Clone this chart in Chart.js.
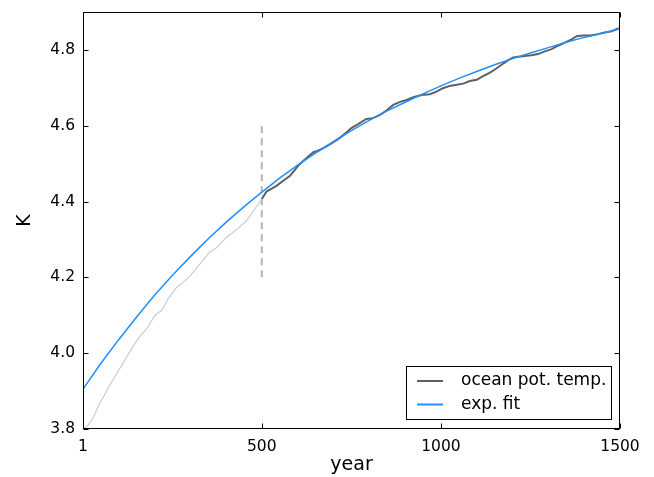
<!DOCTYPE html>
<html>
<head>
<meta charset="utf-8">
<script src="https://cdn.jsdelivr.net/npm/chart.js@4.4.1/dist/chart.umd.min.js"></script>
<style>
  body { margin: 0; background: #fff; }
  #wrap { width: 654px; height: 477px; }
</style>
</head>
<body>
<div id="wrap"><canvas id="chart"></canvas></div>
<script>
// spin-up part (light gray, years 1-500)
const spinYears = [1, 12, 25, 48, 76, 104, 137, 155, 179, 202, 221, 239, 263, 285, 300, 328, 355, 374, 402, 430, 458, 481, 500];
const spinTemp = [3.803, 3.806, 3.822, 3.868, 3.916, 3.960, 4.012, 4.039, 4.065, 4.100, 4.113, 4.144, 4.174, 4.190, 4.204, 4.236, 4.267, 4.278, 4.306, 4.326, 4.350, 4.381, 4.407];

// ocean potential temperature (years 500-1500)
const oceanYears = [500, 514, 528, 542, 560, 579, 602, 625, 644, 657, 676, 699, 718, 736, 750, 769, 792, 810, 829, 848, 867, 886, 904, 923, 946, 969, 988, 1006, 1025, 1044, 1062, 1081, 1100, 1114, 1137, 1155, 1174, 1188, 1202, 1216, 1234, 1253, 1271, 1290, 1309, 1327, 1346, 1365, 1379, 1397, 1416, 1435, 1458, 1477, 1491, 1500];
const oceanTemp = [4.407, 4.427, 4.434, 4.442, 4.455, 4.468, 4.495, 4.515, 4.530, 4.534, 4.543, 4.556, 4.568, 4.582, 4.594, 4.604, 4.618, 4.620, 4.628, 4.640, 4.655, 4.663, 4.668, 4.675, 4.681, 4.683, 4.690, 4.699, 4.705, 4.708, 4.711, 4.718, 4.721, 4.729, 4.740, 4.751, 4.764, 4.773, 4.780, 4.782, 4.784, 4.786, 4.789, 4.796, 4.802, 4.811, 4.819, 4.828, 4.836, 4.838, 4.838, 4.841, 4.846, 4.849, 4.855, 4.857];

// exponential fit
const fitYears = [1, 50, 100, 150, 200, 250, 300, 350, 400, 450, 500, 550, 600, 650, 700, 750, 800, 850, 900, 950, 1000, 1050, 1100, 1150, 1200, 1250, 1300, 1350, 1400, 1450, 1500];
const fitTemp = [3.905, 3.972, 4.035, 4.095, 4.152, 4.205, 4.254, 4.301, 4.345, 4.386, 4.425, 4.462, 4.496, 4.528, 4.558, 4.587, 4.614, 4.639, 4.662, 4.684, 4.705, 4.725, 4.743, 4.761, 4.777, 4.792, 4.806, 4.820, 4.833, 4.844, 4.856];

// marker at year 500
const markYears = [500, 500];
const markTemp = [4.2, 4.6];

const xTicks = [1, 500, 1000, 1500];
const yTicks = [3.8, 4.0, 4.2, 4.4, 4.6, 4.8];

const legendItems = [
    { label: 'ocean pot. temp.', color: '#606060' },
    { label: 'exp. fit', color: '#1e90ff' }
];

function pts(xs, ys) {
    return xs.map((x, i) => ({ x: x, y: ys[i] }));
}

// box around the plot with inward ticks on all sides, plus the boxed legend
const frame = {
    id: 'frame',
    afterDraw(chart) {
        const ctx = chart.ctx;
        const a = chart.chartArea;
        const x = chart.scales.x, y = chart.scales.y;
        const L = Math.round(a.left) + 0.5, R = Math.round(a.right) - 0.5;
        const T = Math.round(a.top) + 0.5, B = Math.round(a.bottom) - 0.5;
        const len = 5;
        ctx.save();
        ctx.strokeStyle = '#000';
        ctx.lineWidth = 1;
        ctx.strokeRect(L, T, R - L, B - T);
        ctx.beginPath();
        xTicks.forEach(v => {
            const px = Math.round(x.getPixelForValue(v)) + 0.5;
            ctx.moveTo(px, B); ctx.lineTo(px, B - len);
            ctx.moveTo(px, T); ctx.lineTo(px, T + len);
        });
        yTicks.forEach(v => {
            const py = Math.round(y.getPixelForValue(v)) + 0.5;
            ctx.moveTo(L, py); ctx.lineTo(L + len, py);
            ctx.moveTo(R, py); ctx.lineTo(R - len, py);
        });
        ctx.stroke();

        // legend
        const bx = 406.5, by = 366.5, bw = 205, bh = 53;
        ctx.fillStyle = '#fff';
        ctx.fillRect(bx, by, bw, bh);
        ctx.strokeStyle = '#000';
        ctx.strokeRect(bx, by, bw, bh);
        ctx.font = '17px "DejaVu Sans"';
        ctx.textBaseline = 'middle';
        ctx.textAlign = 'left';
        legendItems.forEach((it, i) => {
            const ly = 381 + i * 23.5;
            ctx.strokeStyle = it.color;
            ctx.lineWidth = 2;
            ctx.beginPath();
            ctx.moveTo(417, ly); ctx.lineTo(443, ly);
            ctx.stroke();
            ctx.fillStyle = '#000';
            ctx.fillText(it.label, 461, ly);
        });
        ctx.restore();
    }
};

const ctx = document.getElementById('chart').getContext('2d');
new Chart(ctx, {
    type: 'line',
    data: {
        datasets: [
            {
                label: 'exp. fit',
                data: pts(fitYears, fitTemp),
                borderColor: '#1e90ff',
                borderWidth: 1.5,
                order: 0
            },
            {
                label: 'ocean pot. temp.',
                data: pts(oceanYears, oceanTemp),
                borderColor: '#606060',
                borderWidth: 2,
                order: 1
            },
            {
                label: 'spin-up',
                data: pts(spinYears, spinTemp),
                borderColor: '#cdcdcd',
                borderWidth: 1.2,
                order: 2
            },
            {
                label: 'mark',
                data: pts(markYears, markTemp),
                borderColor: '#b4b4b4',
                borderWidth: 2,
                borderDash: [7, 5],
                order: 3
            }
        ]
    },
    options: {
        responsive: true,
        maintainAspectRatio: false,
        animation: false,
        events: [],
        layout: {
            padding: { left: 0, right: 34, top: 12, bottom: 0 }
        },
        elements: {
            point: { radius: 0 },
            line: { tension: 0, fill: false }
        },
        plugins: {
            legend: { display: false },
            tooltip: { enabled: false }
        },
        scales: {
            x: {
                type: 'linear',
                min: 1,
                max: 1500,
                grid: { display: false, drawTicks: false },
                border: { display: false },
                afterBuildTicks: s => { s.ticks = xTicks.map(v => ({ value: v })); },
                afterFit: s => { s.height = 48; s.paddingLeft = 0; s.paddingRight = 0; },
                ticks: {
                    color: '#000',
                    padding: 9,
                    maxRotation: 0,
                    font: { family: 'DejaVu Sans', size: 15.5 },
                    callback: v => String(v)
                },
                title: {
                    display: true,
                    text: 'year',
                    color: '#000',
                    font: { family: 'DejaVu Sans', size: 19 },
                    padding: { top: 0, bottom: 1 }
                }
            },
            y: {
                type: 'linear',
                min: 3.8,
                max: 4.9,
                grid: { display: false, drawTicks: false },
                border: { display: false },
                afterBuildTicks: s => { s.ticks = yTicks.map(v => ({ value: v })); },
                afterFit: s => { s.width = 83; s.paddingTop = 0; s.paddingBottom = 0; },
                ticks: {
                    color: '#000',
                    padding: 8,
                    font: { family: 'DejaVu Sans', size: 15.5 },
                    callback: v => v.toFixed(1)
                },
                title: {
                    display: true,
                    text: 'K',
                    color: '#000',
                    font: { family: 'DejaVu Sans', size: 19 },
                    padding: { top: 14, bottom: 0 }
                }
            }
        }
    },
    plugins: [frame]
});
</script>
</body>
</html>
